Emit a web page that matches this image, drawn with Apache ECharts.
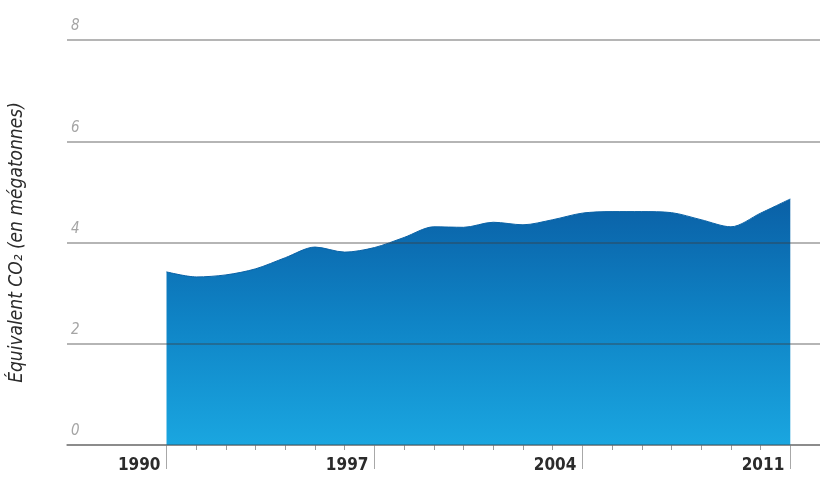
<!DOCTYPE html>
<html>
<head>
<meta charset="utf-8">
<script src="https://cdn.jsdelivr.net/npm/echarts@6/dist/echarts.min.js"></script>
<style>
  html, body { margin: 0; padding: 0; background: #fff; }
  #chart { width: 820px; height: 484px; }
</style>
</head>
<body>
<div id="chart"></div>
<script>
// années et émissions (Mt éq. CO2)
const years = [1990, 1991, 1992, 1993, 1994, 1995, 1996, 1997, 1998, 1999, 2000,
               2001, 2002, 2003, 2004, 2005, 2006, 2007, 2008, 2009, 2010, 2011]
const values = [3.42, 3.32, 3.36, 3.48, 3.70, 3.91, 3.81, 3.90, 4.10, 4.31, 4.30,
                4.40, 4.35, 4.45, 4.58, 4.61, 4.61, 4.59, 4.45, 4.31, 4.58, 4.86]
const labelYears = [1990, 1997, 2004, 2011]
const yTicks = [0, 2, 4, 6, 8]

const condensed = '"DejaVu Sans Condensed", "Liberation Sans Narrow", sans-serif'
const xMin = 1986.65
const xMax = 2012

var myChart = echarts.init(document.getElementById('chart'))

var option = {
    animation: false,
    grid: { left: 63, right: 0, top: 40, bottom: 39 },
    xAxis: [{
        type: 'value',
        min: xMin,
        max: xMax,
        axisLine: { show: true, lineStyle: { color: '#bdbdbd', width: 2 } },
        splitLine: { show: false },
        axisTick: {
            show: true,
            customValues: years,
            length: 5,
            lineStyle: { color: '#9a9a9a', width: 1 }
        },
        axisLabel: {
            customValues: labelYears,
            formatter: v => String(v),
            align: 'right',
            padding: [0, 6, 0, 0],
            margin: 12,
            color: '#2b2b2b',
            fontFamily: condensed,
            fontWeight: 'bold',
            fontSize: 17
        }
    }, {
        type: 'value',
        min: xMin,
        max: xMax,
        position: 'bottom',
        axisLine: { show: false },
        splitLine: { show: false },
        axisTick: {
            show: true,
            customValues: labelYears,
            length: 24,
            lineStyle: { color: '#a8a8a8', width: 1 }
        },
        axisLabel: { show: false }
    }],
    yAxis: {
        type: 'value',
        min: 0,
        max: 8,
        interval: 2,
        z: 5,
        name: 'Équivalent CO₂ (en mégatonnes)',
        nameLocation: 'middle',
        nameGap: 40,
        nameTextStyle: {
            color: '#2b2b2b',
            fontFamily: condensed,
            fontStyle: 'italic',
            fontSize: 19
        },
        axisLine: { show: false },
        axisTick: { show: false },
        splitLine: { lineStyle: { color: 'rgba(60,60,60,0.38)', width: 2 } },
        axisLabel: {
            inside: true,
            margin: 4,
            verticalAlign: 'bottom',
            padding: [0, 0, 6, 0],
            color: '#a5a5a5',
            fontFamily: condensed,
            fontStyle: 'italic',
            fontSize: 15,
            formatter: v => yTicks.includes(v) ? String(v) : ''
        }
    },
    series: [{
        type: 'line',
        data: years.map((y, i) => [y, values[i]]),
        smooth: 0.3,
        symbol: 'none',
        z: 2,
        lineStyle: { width: 1, color: '#0a62a6' },
        areaStyle: {
            opacity: 1,
            color: new echarts.graphic.LinearGradient(0, 0, 0, 1, [
                { offset: 0, color: '#0a60a6' },
                { offset: 0.5, color: '#0f84c6' },
                { offset: 1, color: '#1aa6e0' }
            ])
        }
    }]
}

myChart.setOption(option)
</script>
</body>
</html>
